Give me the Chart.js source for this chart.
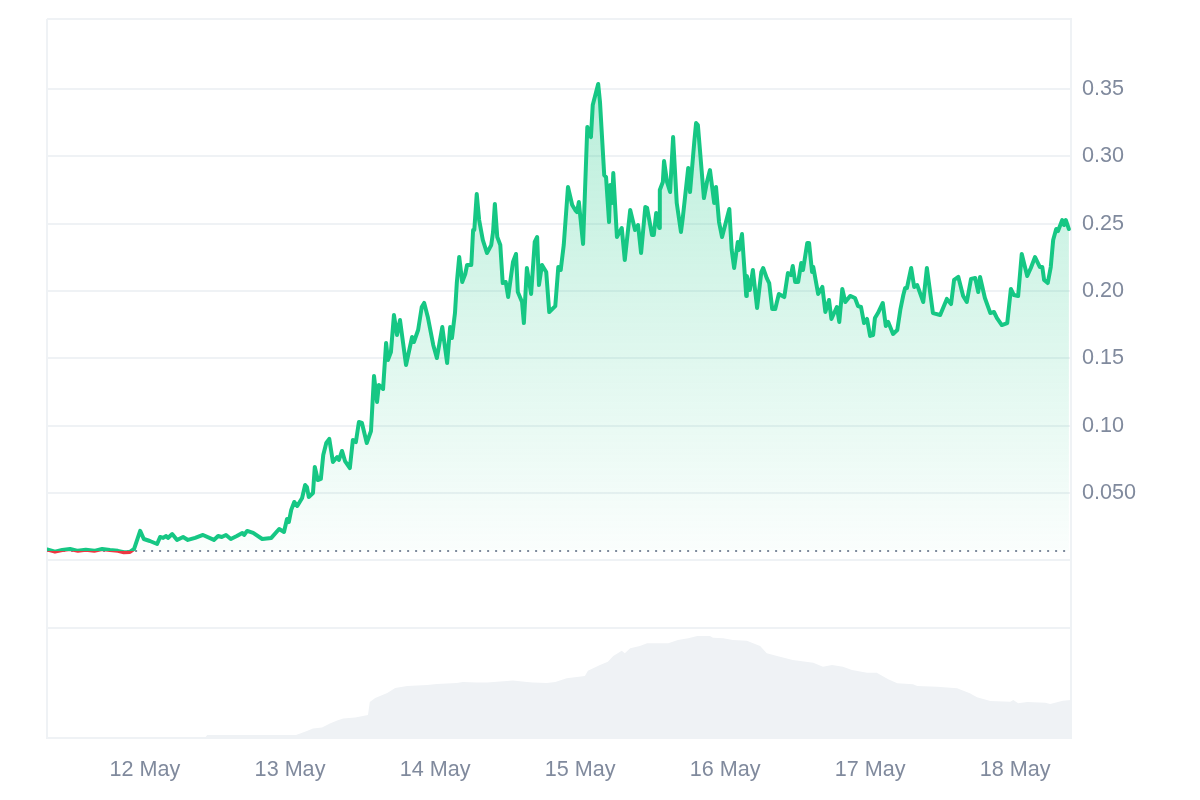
<!DOCTYPE html>
<html>
<head>
<meta charset="utf-8">
<title>Price chart</title>
<script src="https://cdn.jsdelivr.net/npm/chart.js@4"></script>
<style>
  html, body { margin: 0; padding: 0; background: #fff; }
  canvas { display: block; }
</style>
</head>
<body>
<canvas id="priceChart" width="1200" height="800"></canvas>
<script>
// hours since 12 May 00:00
const priceHours = [
  -16.2,-14.9,-13.7,-12.4,-11.1,-9.8,-8.4,-7.1,-5.8,-4.5,-3.5,-2.5,-1.8,-0.8,-0.2,0.8,2.0,2.5,3.0,3.5,3.8,4.5,5.3,6.3,7.1,8.3,9.6,11.4,12.1,12.7,13.4,14.2,15.2,16.1,16.4,16.9,17.9,19.4,20.9,22.2,
  23.0,23.5,23.8,24.2,24.7,25.2,26.0,26.5,26.8,27.1,27.8,28.1,28.6,29.1,29.5,30.0,30.5,31.1,31.8,32.1,32.6,33.1,33.9,34.4,34.9,35.4,35.9,36.7,37.4,37.9,
  38.4,38.7,39.4,39.9,40.2,40.7,41.2,41.7,42.2,43.2,44.2,44.5,45.2,45.8,46.2,46.8,47.7,48.3,49.2,50.0,50.5,50.8,51.3,51.6,52.0,52.5,53.0,53.3,54.0,54.3,
  54.5,54.9,55.3,55.9,56.6,57.3,57.6,57.9,58.3,58.8,59.2,59.7,60.1,60.9,61.4,61.7,62.4,62.7,63.2,63.9,64.5,64.9,65.2,65.7,66.4,66.9,67.9,68.4,68.8,69.3,
  70.0,70.7,71.2,71.5,71.8,72.5,73.2,73.8,74.1,75.0,75.3,76.0,76.3,76.8,77.0,77.3,77.5,78.1,78.9,79.4,80.3,81.1,81.6,82.1,82.8,83.1,83.9,84.2,84.6,85.1,
  85.2,85.7,85.9,86.4,86.9,87.4,88.0,88.7,89.0,89.9,90.2,90.9,91.2,91.5,92.5,93.0,93.5,94.2,94.5,95.0,95.5,96.7,97.1,97.5,98.1,98.3,98.8,99.5,99.6,100.1,
  100.6,101.3,102.0,102.3,102.9,103.3,103.8,104.3,104.9,105.8,106.4,106.9,107.2,107.6,108.1,108.6,108.9,109.6,109.9,110.4,110.6,111.4,112.1,112.6,113.2,113.6,114.5,114.9,115.4,115.9,
  116.7,117.5,118.0,118.5,119.0,119.5,120.0,120.5,120.8,121.3,122.1,122.6,123.0,123.8,124.5,125.0,125.5,125.8,126.1,126.8,127.3,127.8,128.8,129.4,130.4,131.6,132.7,133.4,133.9,134.6,
  135.4,136.0,136.7,137.4,137.9,138.2,139.0,139.9,140.5,141.0,141.8,142.7,143.3,143.8,144.5,145.1,146.0,146.6,147.3,148.1,148.5,148.8,149.4,149.9,150.3,150.8,151.1,151.8,152.1,152.4,152.9
];
const priceValues = [
  .0080,.0064,.0076,.0084,.0070,.0078,.0070,.0084,.0076,.0070,.0060,.0062,.0084,.0218,.0158,.0143,.0121,.0173,.0166,.0180,.0166,.0195,.0151,.0173,.0151,.0166,.0188,.0151,.0180,.0173,.0188,.0158,.0180,.0203,.0188,.0218,.0203,.0158,.0166,.0232,
  .0210,.0307,.0284,.0374,.0433,.0403,.0463,.0559,.0544,.0470,.0500,.0693,.0596,.0604,.0782,.0871,.0901,.0730,.0767,.0745,.0812,.0737,.0685,.0893,.0878,.1027,.1020,.0871,.0960,.1369,
  .1176,.1302,.1272,.1614,.1487,.1547,.1822,.1673,.1784,.1450,.1658,.1621,.1710,.1881,.1911,.1807,.1599,.1502,.1732,.1465,.1732,.1651,.1836,.2059,.2252,.2067,.2126,.2193,.2193,.2453,
  .2453,.2720,.2527,.2379,.2282,.2341,.2438,.2646,.2401,.2341,.2059,.2067,.1955,.2215,.2275,.1992,.1918,.1762,.2171,.1978,.2364,.2401,.2044,.2193,.2141,.1844,.1888,.2178,.2156,.2341,
  .2772,.2638,.2601,.2586,.2661,.2349,.3218,.3143,.3381,.3537,.3403,.2861,.2846,.2512,.2787,.2653,.2876,.2401,.2468,.2230,.2601,.2453,.2490,.2282,.2624,.2616,.2416,.2416,.2579,.2468,
  .2750,.2809,.2965,.2809,.2735,.3143,.2653,.2438,.2542,.2913,.2735,.3106,.3247,.3232,.2690,.2809,.2898,.2653,.2772,.2512,.2401,.2609,.2304,.2171,.2364,.2304,.2423,.1963,.2111,.2007,
  .2156,.1874,.2141,.2171,.2096,.2059,.1866,.1866,.1978,.1955,.2133,.2118,.2185,.2067,.2067,.2208,.2156,.2356,.2356,.2141,.2178,.1978,.2030,.1844,.1933,.1792,.1881,.1770,.2015,.1918,
  .1963,.1948,.1888,.1881,.1762,.1792,.1666,.1673,.1799,.1836,.1911,.1740,.1770,.1681,.1710,.1859,.1970,.2022,.2022,.2171,.2030,.2044,.1918,.2171,.1836,.1822,.1941,.1903,.2082,.2104,
  .1963,.1918,.2089,.2096,.1992,.2104,.1948,.1836,.1844,.1799,.1747,.1762,.2015,.1970,.1963,.2275,.2111,.2171,.2252,.2178,.2178,.2082,.2059,.2178,.2379,.2460,.2445,.2527,.2490,.2527,.2460
];
const volumeHours = [
  9.9,10.3,25.0,26.8,27.8,29.3,30.6,31.8,32.8,34.8,36.9,37.2,38.1,40.1,41.4,43.4,46.7,48.3,51.6,52.6,54.9,56.6,59.9,60.9,63.2,64.2,66.5,67.9,
  69.8,72.8,73.3,75.3,76.6,77.5,78.9,79.4,80.3,81.9,83.1,85.2,86.6,88.2,89.9,91.4,93.5,94.0,95.7,97.3,99.6,101.8,102.9,104.6,107.2,110.6,112.2,113.7,
  115.5,117.0,119.5,121.1,123.0,124.5,127.1,127.8,131.1,134.4,136.5,137.7,139.9,143.2,143.7,144.5,146.0,149.0,149.8,151.9,153.25
];
const volumeValues = [
  0,3,3,7,9.5,10.5,14.5,17.5,19.5,20.5,23,36,40,45,50,52,53,54,55,56,55.5,55.5,57,57.5,56,55.5,55,56,
  59.7,62,67.3,73,76.3,82,87.3,84.7,89.7,92,94.7,94.7,94.7,98,99.7,102,102,100.3,99.7,98,97.3,92,84.7,82,78,75.3,71.3,73,
  71.3,68,65.3,65.3,58.7,54.7,53.7,52,51.3,49.7,44.7,40.7,37,36.3,38,34.7,36,35.3,34,37.3,38
];
const openPrice = 0.0069;
const dayTicks = [0, 24, 48, 72, 96, 120, 144];
const dayLabels = ["12 May", "13 May", "14 May", "15 May", "16 May", "17 May", "18 May"];
const priceTicks = [0.35, 0.30, 0.25, 0.20, 0.15, 0.10, 0.05];
const priceLabels = ["0.35", "0.30", "0.25", "0.20", "0.15", "0.10", "0.050"];

const hoursMin = -16.22, hoursMax = 153.25;
const priceMin = -0.132, priceMax = 0.402;

const GREEN = "#16c784";
const RED = "#ea3943";
const GRID = "#eff2f5";
const TEXT = "#808a9d";

function lineColor(c) {
  const area = c.chart.chartArea;
  if (!area) return GREEN;
  const y = c.chart.scales.y.getPixelForValue(openPrice);
  const stop = (y - area.top) / (area.bottom - area.top);
  const g = c.chart.ctx.createLinearGradient(0, area.top, 0, area.bottom);
  g.addColorStop(0, GREEN);
  g.addColorStop(stop, GREEN);
  g.addColorStop(stop, RED);
  g.addColorStop(1, RED);
  return g;
}

function fillColor(c) {
  const area = c.chart.chartArea;
  if (!area) return "rgba(22,199,132,0.2)";
  const s = c.chart.scales.y;
  const g = c.chart.ctx.createLinearGradient(0, s.getPixelForValue(0.36), 0, s.getPixelForValue(openPrice));
  g.addColorStop(0, "rgba(22,199,132,0.3)");
  g.addColorStop(1, "rgba(22,199,132,0.02)");
  return g;
}

const priceCtx = document.getElementById("priceChart").getContext("2d");
const priceChart = new Chart(priceCtx, {
  type: "line",
  data: {
    datasets: [
      {
        data: priceHours.map((h, i) => ({ x: h, y: priceValues[i] })),
        yAxisID: "y",
        borderColor: lineColor,
        backgroundColor: fillColor,
        borderWidth: 4,
        borderJoinStyle: "round",
        borderCapStyle: "round",
        pointRadius: 0,
        tension: 0,
        fill: { value: openPrice },
        order: 1,
      },
      {
        data: [{ x: priceHours[0], y: openPrice }, { x: priceHours[priceHours.length - 1], y: openPrice }],
        yAxisID: "y",
        borderColor: TEXT,
        borderWidth: 2,
        borderDash: [2, 6],
        pointRadius: 0,
        fill: false,
        order: 2,
      },
      {
        data: volumeHours.map((h, i) => ({ x: h, y: volumeValues[i] })),
        yAxisID: "volume",
        borderWidth: 0,
        backgroundColor: GRID,
        pointRadius: 0,
        tension: 0,
        fill: "origin",
        order: 3,
      },
    ],
  },
  options: {
    responsive: false,
    animation: false,
    layout: { padding: { left: 47, top: 19, right: 0, bottom: 0 } },
    plugins: { legend: { display: false }, tooltip: { enabled: false } },
    scales: {
      x: {
        type: "linear",
        min: hoursMin,
        max: hoursMax,
        afterFit: (s) => { s.height = 62; },
        afterBuildTicks: (s) => {
          s.ticks = [hoursMin].concat(dayTicks, [hoursMax]).map((v) => ({ value: v }));
        },
        grid: {
          drawTicks: false,
          lineWidth: 2,
          color: (c) => (c.tick && dayTicks.includes(c.tick.value) ? "rgba(0,0,0,0)" : GRID),
        },
        border: { color: GRID, width: 2 },
        ticks: {
          autoSkip: false,
          maxRotation: 0,
          padding: 19,
          color: TEXT,
          font: { family: "Liberation Sans", size: 21.6 },
          callback: (v) => {
            const i = dayTicks.indexOf(v);
            return i >= 0 ? dayLabels[i] : "";
          },
        },
      },
      y: {
        position: "right",
        min: priceMin,
        max: priceMax,
        afterFit: (s) => {
          s.width = 129;
          s.paddingTop = 0;
          s.paddingBottom = 0;
        },
        afterBuildTicks: (s) => {
          s.ticks = [priceMax].concat(priceTicks, [0, -0.05, priceMin]).map((v) => ({ value: v }));
        },
        grid: { drawTicks: false, lineWidth: 2, color: GRID },
        border: { color: GRID, width: 2 },
        ticks: {
          autoSkip: false,
          padding: 11,
          color: TEXT,
          font: { family: "Liberation Sans", size: 21.6 },
          callback: (v) => {
            const i = priceTicks.indexOf(v);
            return i >= 0 ? priceLabels[i] : "";
          },
        },
      },
      volume: {
        display: false,
        min: 0,
        max: 719,
      },
    },
  },
});
</script>
</body>
</html>
